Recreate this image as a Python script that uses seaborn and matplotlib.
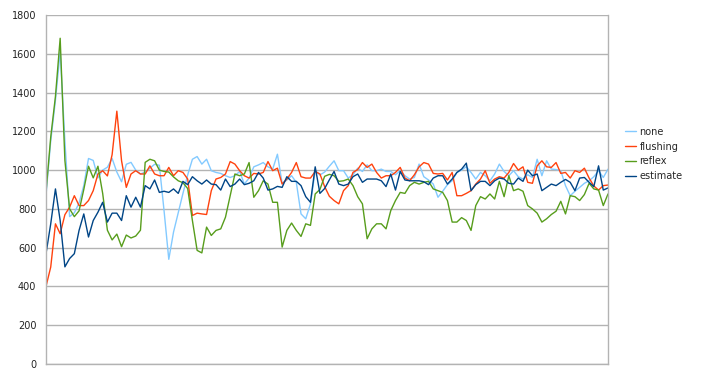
import numpy as np
import pandas as pd
import matplotlib
matplotlib.use("Agg")
import matplotlib.pyplot as plt
import seaborn as sns

# valeurs (120 points par série)
none = [870, 1150, 1360, 1610, 1150, 760, 780, 830, 920, 1060, 1050, 960, 1000, 1015, 1060, 990,
        940, 1030, 1040, 1000, 980, 990, 1010, 1030, 1025, 790, 540, 680, 780, 880, 975,
        1056, 1070, 1031, 1056, 997, 988, 983, 971, 962, 971, 993, 928, 959, 1017, 1027, 1039,
        1017, 1005, 1082, 932, 949, 971, 937, 774, 749, 826, 997, 975, 990, 1020,
        1048, 997, 997, 959, 976, 1010, 993, 1027, 997, 997, 1005, 993, 993, 976, 997, 971,
        954, 962, 1031, 966, 949, 928, 860, 891, 925, 945, 988, 1000, 1018,
        988, 954, 988, 971, 945, 980, 1031, 993, 971, 997, 966, 954, 976, 962, 1056, 971,
        1048, 1005, 1003, 997, 920, 868, 891, 911, 932, 945, 966, 997, 962, 1005]

flushing = [400, 500, 723, 672, 770, 809, 868, 817, 817, 843, 894, 980, 997, 970, 1080, 1304,
            1048, 911, 980, 997, 980, 980, 1022, 980, 971, 971, 1014, 971, 997, 988, 954,
            766, 778, 774, 771, 894, 954, 962, 980, 1044, 1031, 997, 971, 959, 983, 980, 988,
            1044, 997, 1010, 928, 954, 988, 1039, 966, 959, 959, 993, 980, 915, 865,
            843, 826, 894, 920, 988, 1003, 1039, 1014, 1031, 988, 959, 971, 971, 988, 1014, 959,
            945, 976, 1017, 1039, 1031, 983, 980, 983, 949, 988, 868, 868, 880,
            894, 928, 954, 997, 932, 954, 966, 959, 988, 1034, 1000, 1017, 937, 932, 1022, 1048,
            1017, 1014, 1039, 983, 988, 959, 997, 988, 1010, 959, 918, 897, 920, 923]

reflex = [885, 1170, 1380, 1680, 1050, 800, 760, 790, 900, 1020, 960, 1020, 880, 690, 640, 670,
          605, 665, 650, 660, 690, 1040, 1056, 1048, 1000, 993, 990, 965, 945, 935, 905,
          740, 586, 573, 706, 663, 689, 697, 757, 868, 980, 971, 980, 1039, 860, 894, 945,
          928, 834, 834, 603, 689, 727, 689, 658, 723, 715, 877, 900, 968, 978,
          971, 942, 945, 954, 920, 863, 826, 646, 697, 723, 723, 697, 791, 843, 885, 880,
          920, 937, 928, 937, 942, 903, 894, 885, 843, 732, 732, 755, 740,
          689, 817, 863, 851, 877, 851, 942, 863, 971, 894, 903, 891, 817, 800, 778, 732,
          749, 771, 788, 839, 774, 868, 863, 843, 874, 932, 903, 897, 817, 877]

estimate = [569, 723, 903, 740, 501, 544, 569, 689, 774, 655, 740, 783, 834, 732, 778, 778,
            740, 868, 809, 860, 809, 920, 903, 949, 885, 891, 885, 903, 880, 942, 925,
            966, 945, 928, 949, 928, 925, 897, 954, 915, 928, 954, 925, 932, 945, 988, 959,
            897, 903, 916, 911, 966, 942, 942, 920, 863, 834, 1017, 880, 905, 950,
            993, 928, 920, 928, 966, 980, 937, 954, 954, 954, 945, 915, 980, 897, 993, 949,
            945, 945, 945, 940, 925, 959, 971, 971, 928, 954, 988, 1005, 1036,
            894, 925, 942, 942, 920, 945, 959, 954, 932, 928, 959, 942, 1000, 971, 980, 894,
            911, 928, 920, 937, 952, 937, 894, 959, 962, 937, 915, 1022, 897, 908]

series = ["none", "flushing", "reflex", "estimate"]
couleurs = ["#83caff", "#ff420e", "#579d1c", "#004586"]

df = pd.DataFrame({"none": none, "flushing": flushing,
                   "reflex": reflex, "estimate": estimate})
df["idx"] = np.arange(len(df))
df_long = df.melt(id_vars="idx", var_name="serie", value_name="valeur")

sns.set_style("white")
plt.rcParams["font.family"] = ["DejaVu Sans"]

fig = plt.figure(figsize=(7.05, 3.87), dpi=100)
ax = fig.add_axes([46 / 705, 23 / 387, 562 / 705, 349 / 387])

sns.lineplot(data=df_long, x="idx", y="valeur", hue="serie", hue_order=series,
             palette=couleurs, linewidth=1.0, ax=ax, legend=True)

gris = "#b3b3b3"
ax.set_xlim(0, len(df) - 1)
ax.set_ylim(0, 1800)
ax.set_yticks(np.arange(0, 1801, 200))
ax.set_xticks(np.arange(0, len(df)))
ax.set_xticklabels([])
ax.set_xlabel("")
ax.set_ylabel("")
ax.yaxis.grid(True, color=gris, linewidth=1.0)
ax.set_axisbelow(True)
for s in ax.spines.values():
    s.set_color(gris)
    s.set_linewidth(1.0)
ax.spines["top"].set_visible(False)
ax.tick_params(axis="x", direction="out", length=4, width=1, color=gris)
ax.tick_params(axis="y", direction="out", length=4, width=1, color=gris,
               labelsize=7, labelcolor="#222222", pad=3)

handles, labels = ax.get_legend_handles_labels()
ax.legend(handles, labels, loc="center left",
          bbox_to_anchor=(625 / 705, 1 - 154 / 387), bbox_transform=fig.transFigure,
          frameon=False, fontsize=7, handlelength=1.1, handletextpad=0.4,
          labelspacing=0.5, borderpad=0, borderaxespad=0)

plt.savefig("out.png", dpi=100)
